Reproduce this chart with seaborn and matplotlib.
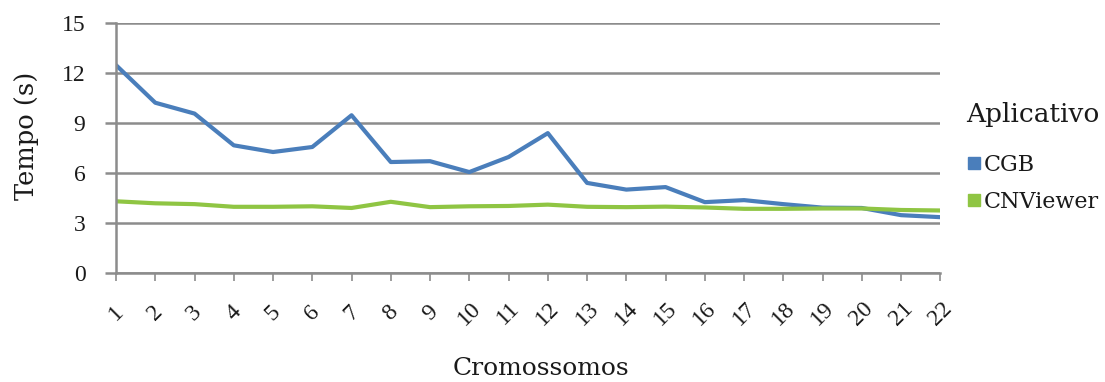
import matplotlib
matplotlib.use("Agg")
import matplotlib.pyplot as plt
import seaborn as sns
import pandas as pd
from matplotlib.lines import Line2D

cromossomos = list(range(1, 23))
cgb = [12.45, 10.2, 9.55, 7.65, 7.25, 7.55, 9.45, 6.65, 6.7, 6.05, 6.95, 8.38,
       5.4, 5.0, 5.15, 4.25, 4.37, 4.13, 3.92, 3.9, 3.47, 3.35]
cnviewer = [4.3, 4.18, 4.13, 3.97, 3.97, 4.0, 3.9, 4.27, 3.95, 4.0, 4.02, 4.1,
            3.97, 3.95, 3.98, 3.93, 3.85, 3.85, 3.87, 3.87, 3.78, 3.75]
series_names = ["CGB", "CNViewer"]
yticks = [0, 3, 6, 9, 12, 15]

df = pd.DataFrame({
    "Cromossomos": cromossomos * 2,
    "Tempo": cgb + cnviewer,
    "Aplicativo": [series_names[0]] * 22 + [series_names[1]] * 22,
})

sns.set_theme(style="white")
plt.rcParams['font.family'] = ['DejaVu Serif', 'Liberation Serif']
tick_font = 'Liberation Serif'
txt_color = "#1a1a1a"

colors = {"CGB": "#4a7ebb", "CNViewer": "#8fc543"}

fig = plt.figure(figsize=(11.05, 3.82), dpi=100)
ax = fig.add_axes([0.105, 0.285, 0.746, 0.656])

sns.lineplot(data=df, x="Cromossomos", y="Tempo", hue="Aplicativo",
             palette=colors, linewidth=3, ax=ax, legend=False)

ax.set_xlim(1, 22)
ax.set_ylim(0, 15)
ax.set_yticks(yticks)
ax.set_xticks(cromossomos)
ax.set_xticklabels([str(c) for c in cromossomos], rotation=45, fontsize=17,
                   fontfamily=tick_font, color=txt_color, ha="center", va="center")
ax.set_yticklabels([str(t) for t in yticks], fontsize=17, fontfamily=tick_font,
                   color=txt_color)

ax.yaxis.grid(True, color="#8c8c8c", linewidth=1.8)
ax.xaxis.grid(False)
for s in ["top", "right"]:
    ax.spines[s].set_visible(False)
for s in ["left", "bottom"]:
    ax.spines[s].set_color("#8c8c8c")
    ax.spines[s].set_linewidth(1.8)
ax.tick_params(axis="x", which="both", bottom=True, length=6, width=1.2,
               color="#8c8c8c", pad=23)
ax.tick_params(axis="y", which="both", left=True, length=8, width=1.8,
               color="#8c8c8c", pad=14)
ax.set_axisbelow(True)

ax.set_xlabel("Cromossomos", fontsize=18, color=txt_color)
ax.xaxis.label.set_va("center")
ax.xaxis.set_label_coords(0.515, -0.38)
ax.set_ylabel("Tempo (s)", fontsize=18.5, color=txt_color)
ax.yaxis.label.set_va("center")
ax.yaxis.set_label_coords(-0.109, 0.547)

handles = [Line2D([0], [0], marker="s", linestyle="none", markersize=8.6,
                  markerfacecolor=colors[n], markeredgecolor=colors[n])
           for n in series_names]
leg_fs = 16
leg_ls = 0.7
leg = fig.legend(handles, series_names, title="Aplicativo", loc="upper left",
                 bbox_to_anchor=(0.874, 0.733), frameon=False, fontsize=leg_fs,
                 title_fontsize=19, handletextpad=0.1, labelspacing=leg_ls,
                 handlelength=0.7, borderaxespad=0, borderpad=0)
leg._legend_box.align = "left"
leg._legend_box.sep = leg_ls * leg_fs + 8
for t in leg.get_texts():
    t.set_color(txt_color)
leg.get_title().set_color(txt_color)

fig.savefig("out.png", dpi=100)
